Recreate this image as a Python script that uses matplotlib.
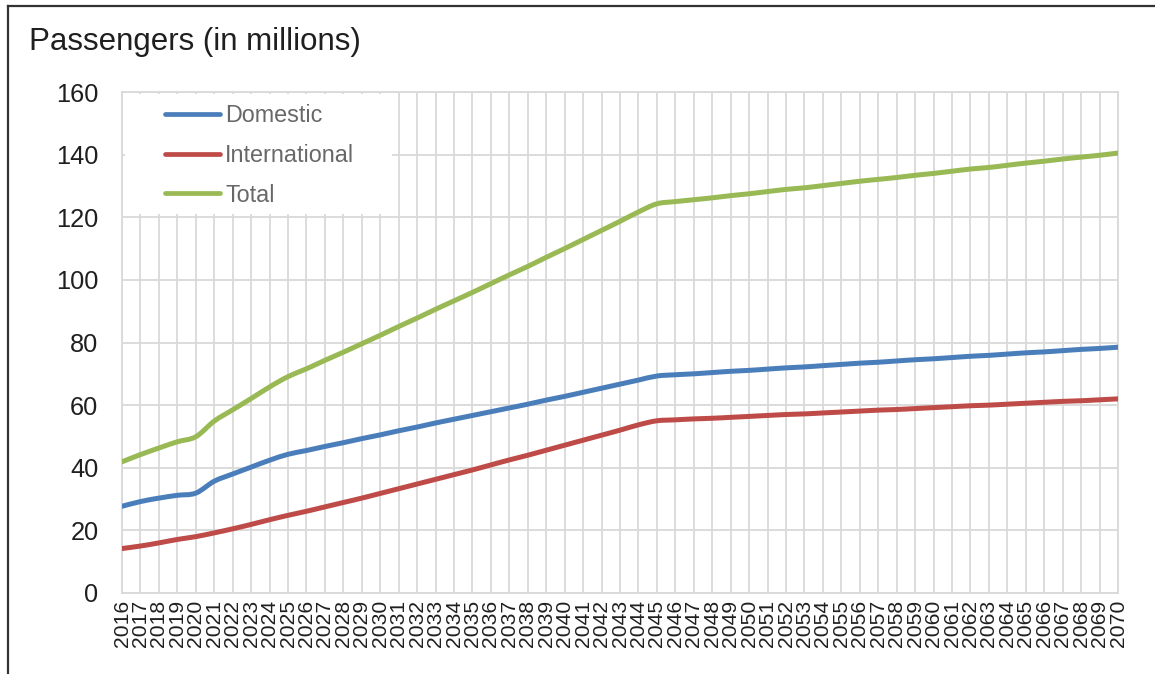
import numpy as np
import matplotlib
matplotlib.use("Agg")
import matplotlib.pyplot as plt
from matplotlib.path import Path
from matplotlib.patches import PathPatch, Rectangle
from matplotlib.lines import Line2D

plt.rcParams["font.family"] = ["Liberation Sans", "DejaVu Sans"]

# ---- data -------------------------------------------------------------
years = list(range(2016, 2071))

domestic = [
    27.7, 29.2, 30.3, 31.2, 31.9, 35.7, 38.0, 40.2, 42.4, 44.3,
    45.5, 46.8, 48.0, 49.3, 50.5, 51.8, 53.0, 54.3, 55.5, 56.7,
    57.9, 59.1, 60.3, 61.6, 62.8, 64.1, 65.4, 66.7, 68.0, 69.3,
    69.7, 70.0, 70.4, 70.8, 71.1, 71.5, 71.9, 72.2, 72.6, 73.0,
    73.4, 73.7, 74.1, 74.5, 74.8, 75.2, 75.6, 75.9, 76.3, 76.7,
    77.0, 77.4, 77.8, 78.1, 78.5,
]

international = [
    14.2, 15.0, 16.0, 17.1, 18.0, 19.2, 20.5, 21.9, 23.4, 24.8,
    26.1, 27.5, 28.9, 30.3, 31.8, 33.3, 34.8, 36.3, 37.8, 39.3,
    40.9, 42.5, 44.0, 45.6, 47.2, 48.8, 50.4, 52.0, 53.7, 55.0,
    55.3, 55.6, 55.8, 56.1, 56.4, 56.7, 57.0, 57.2, 57.5, 57.8,
    58.1, 58.4, 58.6, 58.9, 59.2, 59.5, 59.8, 60.0, 60.3, 60.6,
    60.9, 61.2, 61.4, 61.7, 62.0,
]

total = [
    41.9, 44.2, 46.3, 48.3, 49.9, 54.9, 58.5, 62.1, 65.8, 69.1,
    71.6, 74.3, 76.9, 79.6, 82.3, 85.1, 87.8, 90.6, 93.3, 96.0,
    98.8, 101.6, 104.3, 107.2, 110.0, 112.9, 115.8, 118.7, 121.7, 124.3,
    125.0, 125.6, 126.2, 126.9, 127.5, 128.2, 128.9, 129.4, 130.1, 130.8,
    131.5, 132.1, 132.7, 133.4, 134.0, 134.7, 135.4, 135.9, 136.6, 137.3,
    137.9, 138.6, 139.2, 139.8, 140.5,
]

series_names = ["Domestic", "International", "Total"]
series_colors = ["#4A7EBB", "#BE4B48", "#98B954"]
y_ticks = [0, 20, 40, 60, 80, 100, 120, 140, 160]
title_text = "Passengers (in millions)"

GRID = "#d9d9d9"
TEXT = "#1f1f1f"
LEGEND_TEXT = "#686868"


def smooth_path(x, y):
    """Smoothed polyline through the points (Catmull-Rom as cubic Beziers)."""
    pts = np.column_stack([x, y]).astype(float)
    n = len(pts)
    verts = [pts[0]]
    codes = [Path.MOVETO]
    for i in range(n - 1):
        p0 = pts[i - 1] if i > 0 else pts[i]
        p1 = pts[i]
        p2 = pts[i + 1]
        p3 = pts[i + 2] if i + 2 < n else pts[i + 1]
        verts += [p1 + (p2 - p0) / 6.0, p2 - (p3 - p1) / 6.0, p2]
        codes += [Path.CURVE4] * 3
    return Path(verts, codes)


W, H = 1155, 674
fig = plt.figure(figsize=(W / 100, H / 100), dpi=100)
fig.patch.set_facecolor("white")

ax_l, ax_r, ax_t, ax_b = 122, 1118, 92, 593
ax = fig.add_axes([ax_l / W, 1 - ax_b / H, (ax_r - ax_l) / W, (ax_b - ax_t) / H])

ax.set_xlim(years[0], years[-1])
ax.set_ylim(y_ticks[0], y_ticks[-1])
ax.set_xticks(years)
ax.set_xticklabels([str(y) for y in years], rotation=90, fontsize=15.2, color=TEXT)
ax.set_yticks(y_ticks)
ax.set_yticklabels([str(v) for v in y_ticks], fontsize=18.3, color=TEXT)
ax.tick_params(axis="x", length=0, pad=5)
ax.tick_params(axis="y", length=0, pad=17)

ax.grid(True, color=GRID, linewidth=1.3, zorder=0)
ax.set_axisbelow(True)
for sp in ax.spines.values():
    sp.set_color(GRID)
    sp.set_linewidth(1.3)

# white backing behind the legend
ax.add_patch(Rectangle((3 / 996, (593 - 214) / 501), (392 - 125) / 996, (214 - 94) / 501,
                       transform=ax.transAxes, facecolor="white", edgecolor="none", zorder=1))

for vals, color in zip([domestic, international, total], series_colors):
    ax.add_patch(PathPatch(smooth_path(years, vals), fill=False, edgecolor=color,
                           linewidth=3.6, capstyle="round", joinstyle="round", zorder=3))

handles = [Line2D([], [], color=c, linewidth=3.4, solid_capstyle="round") for c in series_colors]
leg = ax.legend(handles, series_names, loc="upper left",
                bbox_to_anchor=((165 - 122) / 996, (593 - 104) / 501),
                frameon=False, fontsize=16.8, handlelength=2.36, handletextpad=0.22,
                labelspacing=0.72, borderpad=0, borderaxespad=0)
for t in leg.get_texts():
    t.set_color(LEGEND_TEXT)
leg.set_zorder(4)

fig.text(29 / W, 1 - 42 / H, title_text, fontsize=22.5, color=TEXT, ha="left", va="center")

# outer frame (left and top edges)
fig.add_artist(Line2D([7.5 / W, 7.5 / W], [0, 1 - 6 / H], color="#333333", linewidth=1.6,
                      transform=fig.transFigure))
fig.add_artist(Line2D([7.5 / W, 1], [1 - 6 / H, 1 - 6 / H], color="#333333", linewidth=1.6,
                      transform=fig.transFigure))

fig.savefig("out.png", dpi=100, facecolor="white")
